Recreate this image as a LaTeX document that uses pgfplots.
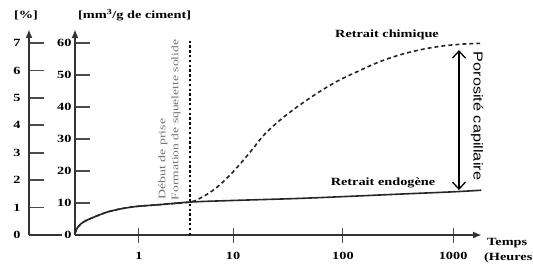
\documentclass[border=0pt]{standalone}
\usepackage{pgfplots}
\pgfplotsset{compat=1.18}
\usepackage{fontspec}
\setmainfont{Liberation Serif}
\newfontfamily\sansf{Liberation Sans}
\usetikzlibrary{arrows.meta}
\newcommand{\lab}[1]{\scalebox{1.3}[1]{\fontsize{11}{13}\selectfont\bfseries #1}}
\begin{document}
\begin{tikzpicture}[x=1pt,y=1pt]
\useasboundingbox (0,0) rectangle (533,274);
% left [%] axis
\begin{axis}[at={(29pt,39pt)}, anchor=south west, scale only axis,
  width=33pt, height=206pt,
  xmin=0, xmax=1, ymin=0, ymax=7.51,
  axis lines=left,
  x axis line style={-, line width=2pt, black!80},
  y axis line style={-{Latex[length=9pt,width=7pt]}, line width=2pt, black!80},
  xtick=\empty,
  ytick={0,1,2,3,4,5,6,7},
  yticklabels={\lab{0},\lab{1},\lab{2},\lab{3},\lab{4},\lab{5},\lab{6},\lab{7}},
  ytick align=inside,
  major tick length=15pt,
  ytick style={line width=1.6pt, black!70},
  yticklabel style={xshift=-5pt},
]
\addplot[draw=none] coordinates {(0,0)};
\end{axis}
% main axis
\begin{axis}[at={(75pt,39pt)}, anchor=south west, scale only axis,
  width=407pt, height=206pt,
  xmin=-0.611, xmax=3.276, ymin=0, ymax=64.4,
  axis lines=left,
  axis line style={-{Latex[length=9pt,width=7pt]}, line width=2pt, black!80},
  xtick={0,0.898,1.948,3.0},
  xticklabels={\lab{1},\lab{10},\lab{100},\lab{1000}},
  ytick={0,10,20,30,40,50,60},
  yticklabels={\lab{0},\lab{10},\lab{20},\lab{30},\lab{40},\lab{50},\lab{60}},
  ytick align=inside,
  xtick align=center,
  major tick length=15pt,
  ytick style={line width=1.6pt, black!70},
  xtick style={line width=1pt, black!70},
  xticklabel style={yshift=-6pt},
  clip=false,
]
% Retrait endogene
\addplot[black!85, line width=1.6pt, smooth, tension=0.5] coordinates {
(-0.611,0.5) (-0.59,2.2) (-0.55,3.6) (-0.5,4.6) (-0.4,6.0) (-0.3,7.2)
(-0.2,8.0) (-0.1,8.6) (0,9.0) (0.2,9.5) (0.487,10.3) (0.9,10.8)
(1.5,11.4) (1.95,12.0) (2.5,12.8) (3.0,13.5) (3.27,14.0)};
% Retrait chimique
\addplot[black!85, line width=1.6pt, dash pattern=on 4pt off 3pt, smooth] coordinates {
(-0.611,0.5) (-0.59,2.2) (-0.55,3.6) (-0.5,4.6) (-0.4,6.0) (-0.3,7.2)
(-0.2,8.0) (-0.1,8.6) (0,9.0) (0.2,9.5) (0.487,10.3)
(0.6,11.8) (0.7,13.8) (0.8,16.5) (0.9,19.8) (1.0,23.5) (1.1,27.5)
(1.2,31.5) (1.35,36.0) (1.5,39.8) (1.7,44.3) (1.9,48.2) (2.1,51.3)
(2.3,54.2) (2.5,56.4) (2.7,58.0) (2.9,59.1) (3.1,59.7) (3.257,59.9)};
% debut de prise
\addplot[black, line width=2.6pt, dash pattern=on 2.4pt off 2.4pt] coordinates {(0.487,0) (0.487,61)};
% porosite arrow
\draw[{Straight Barb[length=7pt,width=13pt]}-{Straight Barb[length=7pt,width=13pt]}, line width=1.3pt]
  (axis cs:3.056,57.8) -- (axis cs:3.056,14.06);
\end{axis}
% texts
\node at (26,259) {\lab{[\%]}};
\node[anchor=west, inner sep=0pt] at (78,259) {\lab{[mm\textsuperscript{3}/g de ciment]}};
\node at (387,239) {\lab{Retrait chimique}};
\node at (383,91) {\lab{Retrait endogène}};
\node[rotate=-90] at (477,158) {\scalebox{1.25}[1]{\sansf\fontsize{13}{15}\selectfont Porosité capillaire}};
\node[rotate=90, text=black!55] at (163,115) {\scalebox{1.38}[1]{\fontsize{10}{12}\selectfont Début de prise}};
\node[rotate=90, text=black!55] at (176,154) {\scalebox{1.36}[1]{\fontsize{10}{12}\selectfont Formation de squelette solide}};
\node[anchor=west, inner sep=0pt] at (487,31) {\lab{Temps}};
\node[anchor=west, inner sep=0pt] at (484,16) {\lab{(Heures)}};
\end{tikzpicture}
\end{document}
